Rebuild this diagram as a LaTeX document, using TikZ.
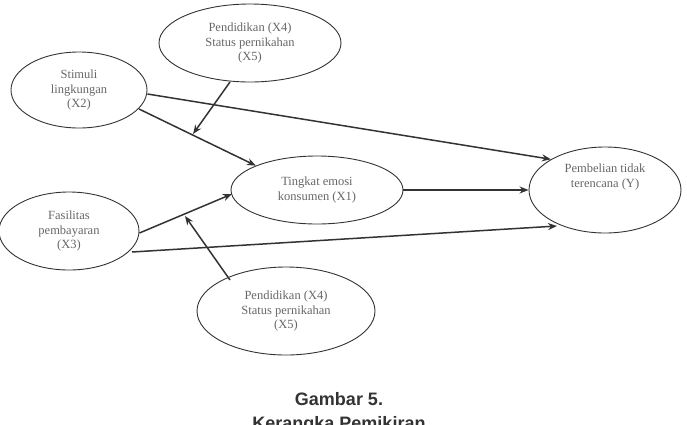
\documentclass[tikz,border=0pt]{standalone}
\usepackage{fontspec}
\setmainfont{Liberation Serif}
\newfontfamily\capfont{Liberation Sans}
\usetikzlibrary{shapes.geometric,arrows.meta}
\definecolor{txt}{HTML}{666666}
\definecolor{ln}{HTML}{333333}
\tikzset{
  oval/.style={ellipse, draw=ln, line width=0.9pt, inner sep=0pt, align=center, text=txt,
    font=\fontsize{12.5}{14.5}\selectfont},
  arr/.style={draw=ln, line width=1.5pt, -{Stealth[length=9pt,width=7pt]}},
  capt/.style={font=\capfont\bfseries\fontsize{18}{21}\selectfont, text=ln, align=center}
}
\begin{document}
\begin{tikzpicture}[x=1pt,y=-1pt]
\clip (0,0) rectangle (687,424);
\useasboundingbox (0,0) rectangle (687,424);
\node[oval, minimum width=182pt, minimum height=78pt] (top) at (250,43) {Pendidikan (X4)\\Status pernikahan\\(X5)};
\node[oval, minimum width=136pt, minimum height=76pt] (x2) at (79,90) {Stimuli\\lingkungan\\(X2)};
\node[oval, minimum width=140pt, minimum height=78pt] (x3) at (69,231) {Fasilitas\\pembayaran\\(X3)};
\node[oval, minimum width=172pt, minimum height=68pt] (x1) at (317,190) {Tingkat emosi\\konsumen (X1)};
\node[oval, minimum width=152pt, minimum height=86pt] (y) at (605,190) {Pembelian tidak\\terencana (Y)\\[14pt]};
\node[oval, minimum width=178pt, minimum height=88pt] (bot) at (286,311) {Pendidikan (X4)\\Status pernikahan\\(X5)};
\coordinate (m1) at (193,134);
\coordinate (m2) at (185,216);
\draw[arr] (x2.east |- 0,94) -- (y.north west);
\draw[arr] (139,109) -- (x1.north west);
\draw[arr] (x3.east |- 0,233) -- (232,194);
\draw[arr] (132,252) -- (557,226);
\draw[arr] (x1.east) -- (y.west);
\draw[arr] (230,82) -- (m1);
\draw[arr] (230,280) -- (m2);
\node[capt] (cap) at (339,399) {Gambar 5.};
\node[capt, anchor=north] (cap2) at (339,413) {Kerangka Pemikiran};
\end{tikzpicture}
\end{document}
